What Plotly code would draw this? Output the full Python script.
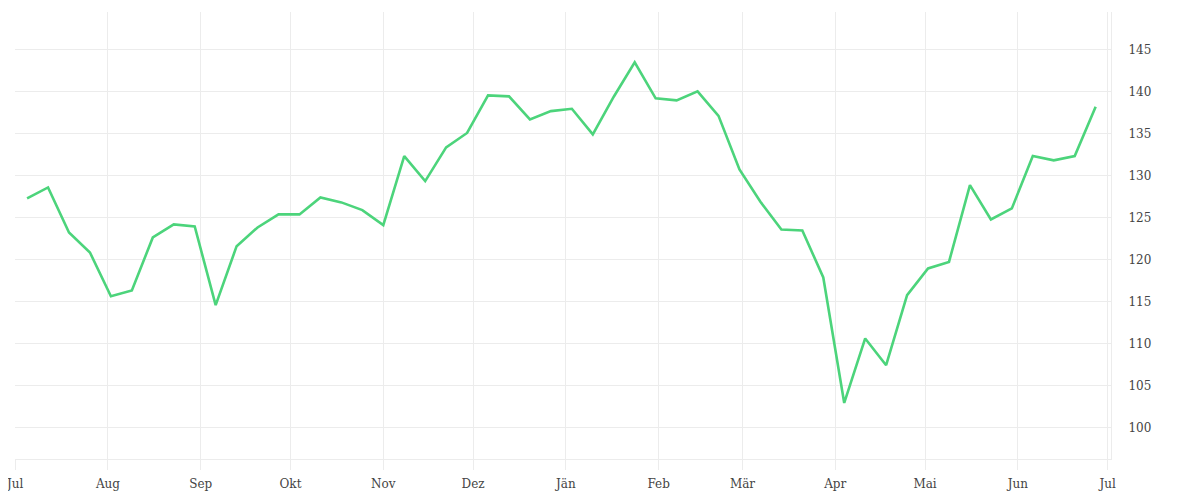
import plotly.graph_objects as go
import pandas as pd

# Weekly dates (Mondays) and values
start_date = "2021-07-05"
n_weeks = 52
dates = pd.date_range(start_date, periods=n_weeks, freq="7D")

values = [
    127.26, 128.57, 123.21, 120.83, 115.63, 116.31, 122.62, 124.17, 123.93, 114.56,
    121.58, 123.81, 125.36, 125.36, 127.38, 126.79, 125.87, 124.08, 132.30, 129.32,
    133.33, 135.05, 139.52, 139.40, 136.67, 137.65, 137.93, 134.88, 139.36, 143.45,
    139.17, 138.93, 140.00, 137.08, 130.71, 126.86, 123.57, 123.45, 117.86, 102.93,
    110.60, 107.42, 115.75, 118.93, 119.71, 128.85, 124.76, 126.07, 132.30, 131.79,
    132.30, 138.17,
]

month_ticks = pd.date_range("2021-07-01", "2022-07-01", freq="MS")
month_labels = ["Jul", "Aug", "Sep", "Okt", "Nov", "Dez", "Jän", "Feb", "Mär",
                "Apr", "Mai", "Jun", "Jul"]

y_ticks = [100, 105, 110, 115, 120, 125, 130, 135, 140, 145]

grid = "#ececec"
font_family = "'DejaVu Serif', 'Liberation Serif', serif"
tick_font = dict(family=font_family, size=12, color="#444444")

fig = go.Figure(
    go.Scatter(
        x=dates,
        y=values,
        mode="lines",
        line=dict(color="#4cd47b", width=2.6),
        hoverinfo="x+y",
    )
)

fig.update_layout(
    width=1200,
    height=500,
    margin=dict(l=7, r=97, t=4, b=49, pad=0),
    paper_bgcolor="white",
    plot_bgcolor="white",
    showlegend=False,
    font=tick_font,
)

fig.update_xaxes(
    type="date",
    range=["2021-06-30 23:00", "2022-07-02 03:00"],
    tickvals=list(month_ticks),
    ticktext=month_labels,
    showgrid=True,
    gridcolor=grid,
    gridwidth=1,
    ticks="outside",
    ticklen=10,
    tickcolor=grid,
    tickwidth=1,
    showline=True,
    linecolor=grid,
    linewidth=1,
    zeroline=False,
    automargin=False,
    ticklabeloverflow="allow",
    ticklabelstandoff=4,
    tickfont=tick_font,
)

fig.update_yaxes(
    side="right",
    range=[96.26, 149.44],
    tickvals=y_ticks,
    showgrid=True,
    gridcolor=grid,
    gridwidth=1,
    ticks="",
    showline=True,
    linecolor=grid,
    linewidth=1,
    zeroline=False,
    automargin=False,
    ticklabelstandoff=14,
    tickfont=tick_font,
)

fig.write_html("out.html")
